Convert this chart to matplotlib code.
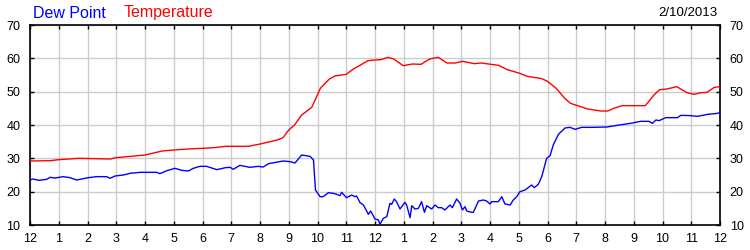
import matplotlib
matplotlib.use("Agg")
import matplotlib.pyplot as plt

plt.rcParams['font.family'] = ['Liberation Sans', 'DejaVu Sans']

# hours since midnight
temp_hours = [0, 0.7, 1.0, 1.7, 2.8, 3.0, 3.5, 4.0, 4.6, 5.0, 5.5, 6.0, 6.4, 6.8, 7.6,
              8.0, 8.3, 8.6, 8.8, 9.0, 9.2, 9.45, 9.8, 10.1, 10.4, 10.6, 11.0, 11.25,
              11.5, 11.75, 12.0, 12.2, 12.45, 12.65, 12.98, 13.3, 13.6, 13.9, 14.2,
              14.5, 14.8, 15.05, 15.45, 15.7, 15.95, 16.3, 16.6, 17.0, 17.3, 17.8,
              18.0, 18.3, 18.6, 18.8, 19.15, 19.4, 19.85, 20.1, 20.3, 20.6, 21.0,
              21.4, 21.5, 21.7, 21.9, 22.15, 22.5, 22.85, 23.1, 23.35, 23.55, 23.8, 24.0]
temperature = [29.2, 29.3, 29.6, 30.0, 29.8, 30.2, 30.6, 31.0, 32.2, 32.5, 32.8, 33.0,
               33.2, 33.6, 33.6, 34.3, 34.9, 35.5, 36.2, 38.5, 40.0, 43.0, 45.3, 51.0,
               53.7, 54.7, 55.2, 56.8, 58.0, 59.3, 59.5, 59.6, 60.3, 59.8, 57.8, 58.3,
               58.2, 59.8, 60.3, 58.6, 58.6, 59.1, 58.4, 58.6, 58.3, 57.9, 56.6, 55.6,
               54.6, 53.9, 53.1, 51.0, 48.0, 46.5, 45.5, 44.8, 44.2, 44.2, 45.0, 45.8,
               45.8, 45.8, 46.8, 49.0, 50.6, 50.8, 51.5, 49.7, 49.2, 49.7, 49.8, 51.3, 51.5]

dew_hours = [0, 0.1, 0.3, 0.58, 0.7, 0.87, 1.16, 1.39, 1.62, 2.03,
             2.32, 2.67, 2.78, 2.96, 3.25, 3.48, 3.83, 4.41, 4.52, 4.76,
             5.04, 5.28, 5.51, 5.68, 5.91, 6.14, 6.5, 6.8, 6.96, 7.07,
             7.3, 7.65, 7.94, 8.11, 8.3, 8.6, 8.8, 9.05, 9.22, 9.45,
             9.74, 9.86, 9.93, 10.09, 10.2, 10.38, 10.55, 10.67, 10.78, 10.84,
             11.01, 11.19, 11.3, 11.36, 11.48, 11.6, 11.71, 11.77, 11.85, 12.0,
             12.12, 12.17, 12.29, 12.41, 12.52, 12.58, 12.67, 12.75, 12.87, 13.04,
             13.1, 13.22, 13.28, 13.39, 13.51, 13.62, 13.72, 13.8, 13.97, 14.09,
             14.2, 14.32, 14.43, 14.61, 14.69, 14.84, 14.96, 15.04, 15.13, 15.19,
             15.36, 15.42, 15.6, 15.77, 15.88, 16.0, 16.06, 16.29, 16.41, 16.52,
             16.7, 16.81, 16.93, 17.04, 17.22, 17.33, 17.45, 17.54, 17.68, 17.8,
             17.97, 18.09, 18.2, 18.38, 18.61, 18.78, 18.96, 19.19, 19.6, 20.07,
             20.42, 20.89, 21.24, 21.53, 21.65, 21.77, 21.88, 22.11, 22.52, 22.64,
             22.99, 23.22, 23.57, 23.92, 24.0]
dew_point = [23.5, 23.8, 23.4, 23.7, 24.3, 24.1, 24.5, 24.2, 23.5, 24.2,
             24.5, 24.5, 24.0, 24.7, 25.0, 25.5, 25.8, 25.8, 25.4, 26.3,
             27.0, 26.4, 26.2, 27.0, 27.6, 27.6, 26.6, 27.2, 27.3, 26.7,
             27.9, 27.3, 27.6, 27.4, 28.4, 28.9, 29.2, 29.0, 28.6, 31.0,
             30.6, 29.5, 20.5, 18.5, 18.5, 19.7, 19.5, 19.2, 18.8, 19.8,
             18.2, 19.0, 18.5, 18.7, 16.7, 16.0, 14.2, 13.2, 14.2, 11.8,
             11.5, 10.2, 12.0, 12.5, 16.5, 16.2, 17.8, 17.0, 14.8, 16.8,
             16.0, 12.2, 15.8, 14.8, 15.0, 17.0, 13.8, 15.8, 14.8, 16.0,
             15.2, 15.2, 14.5, 16.0, 15.2, 17.8, 16.5, 14.5, 15.5, 14.2,
             13.8, 13.8, 17.2, 17.5, 17.2, 16.3, 17.0, 17.0, 18.5, 16.3,
             16.0, 17.5, 18.5, 20.0, 20.5, 21.2, 22.0, 21.2, 22.2, 24.5,
             30.0, 30.8, 34.0, 37.2, 39.1, 39.3, 38.7, 39.3, 39.3, 39.4,
             39.9, 40.5, 41.1, 41.1, 40.5, 41.5, 41.3, 42.2, 42.2, 42.9,
             42.8, 42.6, 43.2, 43.5, 43.8]

hour_labels = ['12', '1', '2', '3', '4', '5', '6', '7', '8', '9', '10', '11',
               '12', '1', '2', '3', '4', '5', '6', '7', '8', '9', '10', '11', '12']
y_ticks = [10, 20, 30, 40, 50, 60, 70]
date_label = "2/10/2013"

fig = plt.figure(figsize=(7.5, 2.5), dpi=100)
ax = fig.add_axes([0.04, 0.1, 0.92, 0.8])

ax.plot(temp_hours, temperature, color='#ff0000', lw=1.0, zorder=3)
ax.plot(dew_hours, dew_point, color='#0000ff', lw=1.0, zorder=3)

ax.set_xlim(0, 24)
ax.set_ylim(10, 70)
ax.set_xticks(range(25))
ax.set_xticklabels(hour_labels)
ax.set_yticks(y_ticks)
ax.grid(True, color='#cccccc', lw=1.0, zorder=0)
ax.set_axisbelow(True)

ax.tick_params(axis='both', direction='in', length=3, width=1, color='black',
               labelsize=9, top=True, right=True, labelright=True)
ax.tick_params(axis='x', pad=6)
ax.tick_params(axis='y', pad=7)
for sp in ax.spines.values():
    sp.set_linewidth(1.2)

fig.text(0.044, 0.948, "Dew Point", color='#0000ff', fontsize=11.5, va='center')
fig.text(0.165, 0.948, "Temperature", color='#ff0000', fontsize=11.5, va='center')
fig.text(0.957, 0.948, date_label, color='black', fontsize=9.5, va='center', ha='right')

fig.savefig("out.png", dpi=100)
